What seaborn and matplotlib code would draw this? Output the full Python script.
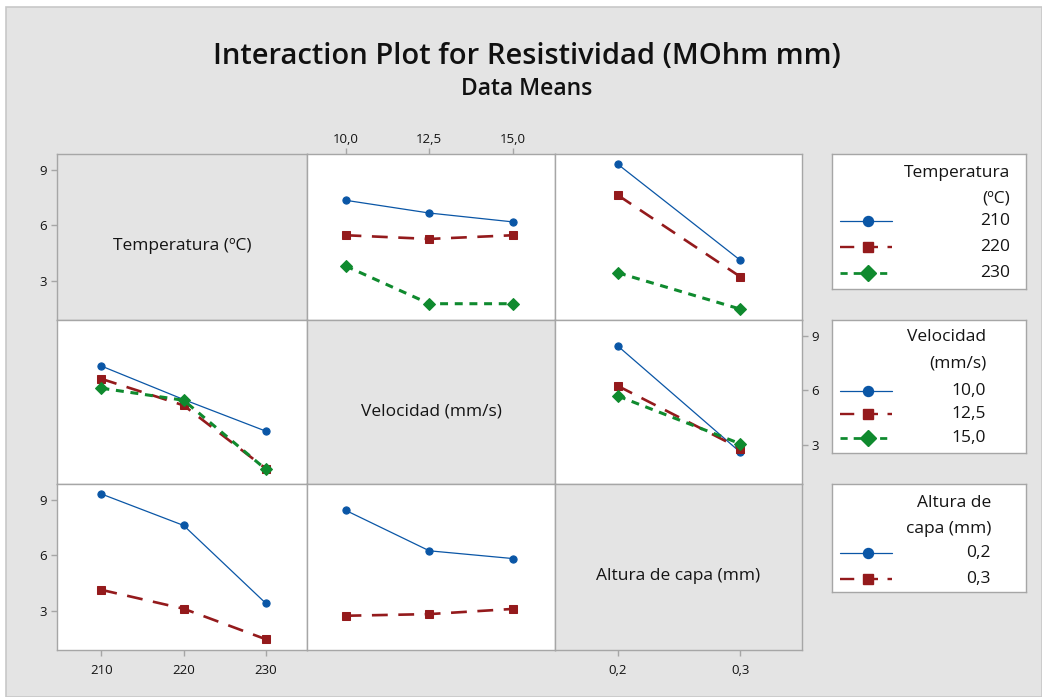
import matplotlib
matplotlib.use("Agg")
import matplotlib.pyplot as plt
from matplotlib.patches import Rectangle
import seaborn as sns
import pandas as pd

# ---------------- data ----------------
temp_levels = [210, 220, 230]
vel_levels = [10.0, 12.5, 15.0]
alt_levels = [0.2, 0.3]

temp_labels = ["210", "220", "230"]
vel_labels = ["10,0", "12,5", "15,0"]
alt_labels = ["0,2", "0,3"]

# Temperatura traces vs Velocidad (row 1, col 2)
tv_210 = [7.35, 6.66, 6.18]
tv_220 = [5.46, 5.26, 5.46]
tv_230 = [3.80, 1.76, 1.76]
# Temperatura traces vs Altura (row 1, col 3)
ta_210 = [9.29, 4.11]
ta_220 = [7.62, 3.22]
ta_230 = [3.43, 1.47]
# Velocidad traces vs Temperatura (row 2, col 1)
vt_10 = [7.33, 5.50, 3.77]
vt_125 = [6.63, 5.18, 1.72]
vt_15 = [6.12, 5.46, 1.68]
# Velocidad traces vs Altura (row 2, col 3)
va_10 = [8.42, 2.62]
va_125 = [6.24, 2.82]
va_15 = [5.69, 3.08]
# Altura traces vs Temperatura (row 3, col 1)
at_02 = [9.31, 7.61, 3.40]
at_03 = [4.13, 3.11, 1.46]
# Altura traces vs Velocidad (row 3, col 2)
av_02 = [8.43, 6.24, 5.82]
av_03 = [2.73, 2.82, 3.10]

factor_names = ["Temperatura (ºC)", "Velocidad (mm/s)", "Altura de capa (mm)"]
legend_titles = [["Temperatura", "(ºC)"], ["Velocidad", "(mm/s)"], ["Altura de", "capa (mm)"]]
title = "Interaction Plot for Resistividad (MOhm mm)"
subtitle = "Data Means"

# ---------------- style ----------------
sns.set_style("white")
plt.rcParams["font.family"] = ["Open Sans", "DejaVu Sans"]

W, H = 1042, 697
BG = "#e4e4e4"
SPINE = "#a6a6a6"
TXT = "#141414"
colors = ["#0a56a6", "#941a1c", "#0f8a2e"]
markers = ["o", "s", "D"]
msizes = [5.2, 5.8, 5.8]
lws = [0.9, 1.9, 2.2]
lstyles = ["-", (0, (6, 4)), (0, (2.6, 2.2))]

fig = plt.figure(figsize=(W / 100, H / 100), dpi=100)
fig.patch.set_facecolor("white")
fig.patches.append(Rectangle((6 / W, 0), 1 - 6 / W, (H - 7) / H, transform=fig.transFigure,
                             facecolor=BG, edgecolor="#c8c8c8", linewidth=1.2, zorder=-10))


def px_axes(x0, y0, x1, y1):
    return fig.add_axes([x0 / W, 1 - y1 / H, (x1 - x0) / W, (y1 - y0) / H])


xe = [57, 307, 555, 802]
ye = [154, 320, 484, 650]
levels = [temp_levels, vel_levels, alt_levels]
tlabels = [temp_labels, vel_labels, alt_labels]
xlims = [(204.6, 235.0), (8.85, 16.25), (0.1485, 0.3505)]
ylim = (0.88, 9.85)

panel_data = {
    (0, 1): [tv_210, tv_220, tv_230],
    (0, 2): [ta_210, ta_220, ta_230],
    (1, 0): [vt_10, vt_125, vt_15],
    (1, 2): [va_10, va_125, va_15],
    (2, 0): [at_02, at_03],
    (2, 1): [av_02, av_03],
}

axes = {}
for r in range(3):
    for c in range(3):
        ax = px_axes(xe[c], ye[r], xe[c + 1], ye[r + 1])
        axes[(r, c)] = ax
        ax.set_xlim(*xlims[c])
        ax.set_ylim(*ylim)
        for s in ax.spines.values():
            s.set_color(SPINE)
            s.set_linewidth(1.0)
        ax.tick_params(left=False, bottom=False, top=False, right=False,
                       labelleft=False, labelbottom=False, labeltop=False, labelright=False)
        if r == c:
            ax.set_facecolor(BG)
            ax.text(0.5, 0.445, factor_names[r], transform=ax.transAxes, ha="center", va="center",
                    fontsize=12.5, color=TXT)
        else:
            ax.set_facecolor("white")
            series = panel_data[(r, c)]
            for k, ys in enumerate(series):
                df = pd.DataFrame({"x": levels[c], "y": ys})
                sns.lineplot(data=df, x="x", y="y", ax=ax, color=colors[k], marker=markers[k],
                             markersize=msizes[k], markeredgecolor=colors[k], linewidth=lws[k],
                             linestyle=lstyles[k], errorbar=None, sort=True, legend=False)
            ax.set_xlim(*xlims[c])
            ax.set_ylim(*ylim)
        ax.set_xlabel("")
        ax.set_ylabel("")

tick_kw = dict(length=4, width=1, color=SPINE, labelsize=9.5, labelcolor=TXT, pad=3)
# left y-axis ticks rows 1 and 3
for r in (0, 2):
    ax = axes[(r, 0)]
    ax.set_yticks([3, 6, 9])
    ax.set_yticklabels(["3", "6", "9"])
    ax.tick_params(axis="y", left=True, labelleft=True, **tick_kw)
# right y-axis ticks row 2
ax = axes[(1, 2)]
ax.set_yticks([3, 6, 9])
ax.set_yticklabels(["3", "6", "9"])
ax.tick_params(axis="y", right=True, labelright=True, left=False, labelleft=False, **tick_kw)
# top x ticks col 2
ax = axes[(0, 1)]
ax.set_xticks(vel_levels)
ax.set_xticklabels(vel_labels)
ax.tick_params(axis="x", top=True, labeltop=True, bottom=False, labelbottom=False, **dict(tick_kw, pad=1.5))
# bottom x ticks col 1 and col 3
for c in (0, 2):
    ax = axes[(2, c)]
    ax.set_xticks(levels[c])
    ax.set_xticklabels(tlabels[c])
    ax.tick_params(axis="x", bottom=True, labelbottom=True, **dict(tick_kw, pad=6))

# ---------------- legends ----------------
leg_boxes = [(832, 154, 1026, 289), (832, 320, 1026, 453), (832, 484, 1026, 592)]
leg_title_y = [(19, 45), (17, 43), (19, 45)]
leg_entry_y = [[67, 93, 119], [71, 94, 118], [69, 95]]
leg_right = [178, 154, 159]
leg_labels = [temp_labels, vel_labels, alt_labels]
for i, (x0, y0, x1, y1) in enumerate(leg_boxes):
    lax = px_axes(x0, y0, x1, y1)
    lax.set_xlim(0, x1 - x0)
    lax.set_ylim(y1 - y0, 0)
    lax.set_facecolor("white")
    lax.set_xticks([])
    lax.set_yticks([])
    for s in lax.spines.values():
        s.set_color(SPINE)
        s.set_linewidth(1.0)
    for j, t in enumerate(legend_titles[i]):
        lax.text(leg_right[i], leg_title_y[i][j], t, ha="right", va="center", fontsize=12.5, color=TXT)
    for k, lab in enumerate(leg_labels[i]):
        yy = leg_entry_y[i][k]
        lax.plot([8, 60], [yy, yy], color=colors[k], linewidth=lws[k] if k == 0 else lws[k] * 0.9,
                 linestyle=lstyles[k], marker=None)
        lax.plot([36], [yy], color=colors[k], marker=markers[k], markersize=msizes[k] + 2.0,
                 linestyle="none")
        lax.text(leg_right[i], yy, lab, ha="right", va="center", fontsize=12.5, color=TXT)

# ---------------- titles ----------------
fig.text(527 / W, 1 - 57 / H, title, ha="center", va="center", fontsize=21,
         fontweight="semibold", color="#111111")
fig.text(527 / W, 1 - 89 / H, subtitle, ha="center", va="center", fontsize=16.5,
         fontweight="semibold", color="#111111")

fig.savefig("out.png", dpi=100, facecolor=fig.get_facecolor())
